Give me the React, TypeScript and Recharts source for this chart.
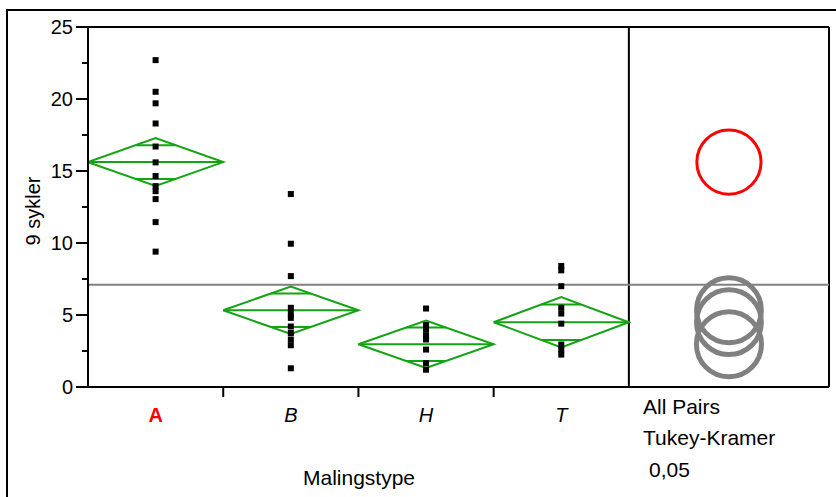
import React from "react";
import { ComposedChart, Line, Scatter, XAxis, YAxis, ReferenceLine, Customized } from "recharts";
import * as Recharts from "recharts";

const groups = ["A", "B", "H", "T"];
const groupX = [0.5, 1.5, 2.5, 3.5];
const means = [15.62, 5.33, 2.97, 4.5];
const ciHalf = [1.66, 1.65, 1.64, 1.75];
const circleR = [2.23, 2.25, 2.26, 2.25];
const pointsA = [22.7, 20.5, 19.7, 18.3, 16.7, 15.6, 14.65, 13.95, 13.6, 13.05, 11.45, 9.4];
const pointsB = [13.4, 9.95, 7.7, 5.5, 5.1, 4.8, 4.2, 3.75, 3.3, 2.9, 1.3];
const pointsH = [5.45, 4.3, 4.0, 3.6, 3.3, 2.6, 1.65, 1.2];
const pointsT = [8.4, 8.1, 7.0, 5.5, 5.1, 4.4, 2.95, 2.6, 2.25];
const grandMean = 7.1;
const yTicks = [0, 2.5, 5, 7.5, 10, 12.5, 15, 17.5, 20, 22.5, 25];
const xTicks = [0.5, 1, 1.5, 2, 2.5, 3, 3.5];
const circleX = 4.74;
const X_MAX = 5.48;
const Y_MAX = 25;

const FONT = "Arial, 'Liberation Sans', sans-serif";
const GREEN = "#13a313";

const allPoints = [pointsA, pointsB, pointsH, pointsT].flatMap((arr, i) =>
  arr.map((y) => ({ x: groupX[i], y }))
);

const diamonds = means.map((m, i) => [
  { x: i, y: m },
  { x: i + 0.5, y: m + ciHalf[i] },
  { x: i + 1, y: m },
  { x: i + 0.5, y: m - ciHalf[i] },
  { x: i, y: m },
]);

const meanLines = means.map((m, i) => [
  { x: i, y: m },
  { x: i + 1, y: m },
]);

// overlap marks sit at mean +/- ci/sqrt(2), as chords of the diamond
const w = 0.5 * (1 - Math.SQRT1_2);
const overlapMarks = means.flatMap((m, i) => {
  const d = ciHalf[i] * Math.SQRT1_2;
  return [
    [{ x: i + 0.5 - w, y: m + d }, { x: i + 0.5 + w, y: m + d }],
    [{ x: i + 0.5 - w, y: m - d }, { x: i + 0.5 + w, y: m - d }],
  ];
});

const Square = (props: any) => {
  const { cx, cy } = props;
  return <rect x={cx - 3} y={cy - 3} width={6} height={6} fill="#000" />;
};

const YTick = ({ x, y, payload }: any) => {
  const v = payload.value;
  const major = v % 5 === 0;
  return (
    <g>
      <line x1={x - (major ? 12 : 6)} x2={x} y1={y} y2={y} stroke="#000" strokeWidth={2} />
      {major && (
        <text x={x - 15} y={y} dy={7} textAnchor="end" fontSize={20} fontFamily={FONT} fill="#000">
          {v}
        </text>
      )}
    </g>
  );
};

const XTick = ({ x, y, payload }: any) => {
  const v = payload.value;
  if (Number.isInteger(v)) {
    return <line x1={x} x2={x} y1={y} y2={y + 10} stroke="#000" strokeWidth={2} />;
  }
  const idx = groupX.indexOf(v);
  const isA = idx === 0;
  return (
    <text
      x={x}
      y={y + 35}
      textAnchor="middle"
      fontSize={20}
      fontFamily={FONT}
      fontWeight={isA ? "bold" : "normal"}
      fontStyle={isA ? "normal" : "italic"}
      fill={isA ? "#ff0000" : "#000"}
    >
      {groups[idx]}
    </text>
  );
};

const CircleLayer = () => {
  const hook = (Recharts as any).usePlotArea;
  const plot = hook ? hook() : null;
  const area = plot ?? { x: 88, y: 27, width: 741, height: 360 };
  const sx = (v: number) => area.x + (v / X_MAX) * area.width;
  const sy = (v: number) => area.y + area.height * (1 - v / Y_MAX);
  const k = area.height / Y_MAX;
  const order = [1, 3, 2, 0];
  return (
    <g>
      {order.map((i) => (
        <circle
          key={i}
          cx={sx(circleX)}
          cy={sy(means[i])}
          r={circleR[i] * k}
          fill="none"
          stroke={i === 0 ? "#ff0000" : "#808080"}
          strokeWidth={i === 0 ? 3 : 5}
        />
      ))}
      <text x={40} y={211} transform="rotate(-90 40 211)" textAnchor="middle" fontSize={20} fontFamily={FONT} fill="#000">
        9 sykler
      </text>
      <text x={359} y={485} textAnchor="middle" fontSize={21} fontFamily={FONT} fill="#000">
        Malingstype
      </text>
      <text x={643} y={414} fontSize={21} fontFamily={FONT} fill="#000">All Pairs</text>
      <text x={643} y={445} fontSize={21} fontFamily={FONT} fill="#000">Tukey-Kramer</text>
      <text x={649} y={477} fontSize={21} fontFamily={FONT} fill="#000">0,05</text>
    </g>
  );
};

export default function App() {
  return (
    <div style={{ position: "absolute", left: 0, top: 0, width: 836, height: 497, background: "#fff" }}>
      <div
        style={{
          position: "absolute",
          left: 6,
          top: 9,
          width: 830,
          height: 488,
          borderLeft: "2px solid #000",
          borderTop: "2px solid #000",
          boxSizing: "border-box",
        }}
      />
      <div style={{ position: "absolute", left: 0, top: 0 }}>
        <ComposedChart width={836} height={497} margin={{ top: 27, right: 7, bottom: 0, left: 0 }}>
          <XAxis
            type="number"
            dataKey="x"
            domain={[0, X_MAX]}
            ticks={xTicks}
            interval={0}
            tick={<XTick />}
            tickLine={false}
            tickSize={0}
            tickMargin={0}
            height={110}
            axisLine={{ stroke: "#000", strokeWidth: 2 }}
            allowDataOverflow
          />
          <YAxis
            type="number"
            domain={[0, Y_MAX]}
            ticks={yTicks}
            interval={0}
            tick={<YTick />}
            tickLine={false}
            tickSize={0}
            tickMargin={0}
            width={88}
            axisLine={{ stroke: "#000", strokeWidth: 2 }}
            allowDataOverflow
          />
          <ReferenceLine y={Y_MAX} stroke="#000" strokeWidth={2} />
          <ReferenceLine x={4} stroke="#000" strokeWidth={2} />
          <ReferenceLine x={X_MAX} stroke="#000" strokeWidth={2} />
          <ReferenceLine y={grandMean} stroke="#808080" strokeWidth={2} />
          {diamonds.map((d, i) => (
            <Line key={`d${i}`} data={d} dataKey="y" stroke={GREEN} strokeWidth={2} dot={false} isAnimationActive={false} />
          ))}
          {meanLines.map((d, i) => (
            <Line key={`m${i}`} data={d} dataKey="y" stroke={GREEN} strokeWidth={2} dot={false} isAnimationActive={false} />
          ))}
          {overlapMarks.map((d, i) => (
            <Line key={`o${i}`} data={d} dataKey="y" stroke={GREEN} strokeWidth={2} dot={false} isAnimationActive={false} />
          ))}
          <Scatter data={allPoints} dataKey="y" shape={<Square />} isAnimationActive={false} />
          <Customized component={<CircleLayer />} />
        </ComposedChart>
      </div>
    </div>
  );
}
